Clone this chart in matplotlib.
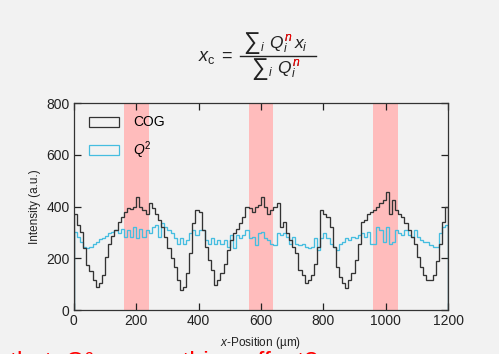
import numpy as np
import matplotlib
matplotlib.use("Agg")
import matplotlib.pyplot as plt
from matplotlib.patches import Patch
from matplotlib.lines import Line2D
from matplotlib.transforms import Bbox

plt.rcParams["font.family"] = ["Liberation Sans", "DejaVu Sans"]
plt.rcParams["mathtext.fontset"] = "custom"
plt.rcParams["mathtext.rm"] = "Liberation Sans"
plt.rcParams["mathtext.it"] = "Liberation Sans:italic"
plt.rcParams["mathtext.bf"] = "Liberation Sans:bold"

# bin edges every 10 um, 0..1200
bin_edges = np.arange(0, 1201, 10)

cog = [370, 330, 300, 240, 175, 150, 115, 88, 105, 135,
       205, 255, 285, 310, 340, 360, 380, 395, 390, 400,
       438, 400, 385, 373, 412, 393, 373, 348, 320, 283,
       240, 200, 167, 116, 77, 90, 142, 220, 335, 386,
       380, 309, 245, 193, 154, 97, 116, 142, 180, 232,
       270, 296, 315, 335, 360, 399, 393, 380, 399, 405,
       438, 399, 373, 386, 399, 412, 322, 340, 296, 270,
       245, 219, 154, 135, 103, 116, 135, 180, 245, 386,
       373, 360, 322, 245, 167, 129, 103, 84, 116, 142,
       193, 257, 341, 348, 373, 380, 386, 399, 412, 425,
       457, 373, 425, 386, 373, 360, 335, 309, 283, 257,
       206, 167, 135, 116, 116, 135, 190, 257, 341, 399]

q2 = [302, 283, 264, 245, 238, 245, 257, 264, 273, 277,
      286, 296, 302, 309, 296, 315, 283, 309, 283, 322,
      277, 315, 283, 309, 296, 322, 328, 283, 335, 322,
      309, 296, 277, 257, 277, 257, 270, 296, 309, 290,
      309, 309, 270, 257, 277, 257, 270, 257, 270, 245,
      290, 238, 290, 277, 290, 309, 277, 283, 251, 296,
      302, 277, 270, 257, 251, 296, 290, 296, 283, 257,
      283, 257, 251, 257, 245, 238, 245, 277, 232, 277,
      296, 277, 257, 245, 232, 257, 264, 277, 270, 283,
      277, 290, 296, 283, 302, 257, 257, 322, 309, 264,
      322, 257, 264, 309, 296, 290, 309, 290, 283, 309,
      283, 270, 264, 264, 251, 245, 245, 296, 322, 328]

# highlighted regions (um)
spans = [(160, 240), (560, 640), (960, 1040)]

BG = "#f2f2f2"
INK = "#222222"
W, H = 499, 354
fig = plt.figure(figsize=(W / 100, H / 100), dpi=100, facecolor=BG)
ax = fig.add_axes([0.148, 0.124, 0.75, 0.585], facecolor=BG)

for a, b in spans:
    ax.axvspan(a, b, color="#ffbcbc", lw=0, zorder=0)

ax.stairs(cog, bin_edges, color="#333333", lw=0.95, zorder=3)
ax.stairs(q2, bin_edges, color="#45bde0", lw=0.95, zorder=2)

ax.set_xlim(0, 1200)
ax.set_ylim(0, 800)
ax.set_xticks(range(0, 1201, 200))
ax.set_yticks(range(0, 801, 200))
ax.tick_params(direction="in", top=True, right=True, length=5, width=0.9,
               labelsize=10, colors=INK, pad=3)
for s in ax.spines.values():
    s.set_linewidth(0.9)
    s.set_color("#333333")

ax.set_xlabel(r"$x$-Position (µm)", fontsize=8.5, labelpad=5, color=INK)
ax.set_ylabel("Intensity (a.u.)", fontsize=8.5, labelpad=4, color=INK)

handles = [Patch(facecolor="none", edgecolor="#333333", lw=0.9),
           Patch(facecolor="none", edgecolor="#45bde0", lw=0.9)]
ax.legend(handles, ["COG", r"$Q^2$"], loc="upper left", frameon=False,
          fontsize=10, handlelength=2.2, handleheight=0.72,
          bbox_to_anchor=(0.04, 0.94), borderaxespad=0, borderpad=0,
          labelspacing=0.7, handletextpad=1.0)


def px(x, y):
    return x / W, 1 - y / H


# formula: black text, then the same text in red clipped to the exponent n
FS = 12.5
fig.text(*px(233, 57), r"$x_\mathrm{c}\;=$", fontsize=13, ha="right",
         va="center", color=INK)
fig.add_artist(Line2D([240 / W, 316 / W], [1 - 56 / H, 1 - 56 / H],
                      transform=fig.transFigure, color=INK, lw=1.0))

renderer = fig.canvas.get_renderer()


def width_of(s):
    t = fig.text(0, 0, s, fontsize=FS)
    w = t.get_window_extent(renderer).width
    t.remove()
    return w


pre_q = r"${}_i\;\, Q$"
pre_n = r"${}_i\;\, Q_i^n$"
num = r"${}_i\;\, Q_i^n\, x_i$"
den = r"${}_i\;\, Q_i^n$"
# (sum centre x, sum centre y, rest left x, rest baseline y)
rows = [(num, (252, 42.5, 260, 48.5)), (den, (260, 68.5, 268, 74))]
for s, (sx, sy, rx, ry) in rows:
    fig.text(*px(sx, sy), r"${\sum}$", fontsize=17, ha="center", va="center",
             color=INK)
    tb = fig.text(*px(rx, ry), s, fontsize=FS, ha="left", va="baseline",
                  color=INK)
    tr = fig.text(*px(rx, ry), s, fontsize=FS, ha="left", va="baseline",
                  color="red")
    bb = tb.get_window_extent(renderer)
    x0 = bb.x0 + width_of(pre_q)
    x1 = bb.x0 + width_of(pre_n) + 1
    y0 = bb.y0 + 0.58 * bb.height
    tr.set_clip_box(Bbox([[x0, y0], [x1, bb.y1 + 3]]))
    tr.set_clip_on(True)

# caption cut off by the bottom edge of the frame
fig.text(*px(10, 370), "that  Q² a smoothing effect?", fontsize=18,
         color="red", ha="left", va="baseline")

fig.savefig("out.png", dpi=100, facecolor=BG)
